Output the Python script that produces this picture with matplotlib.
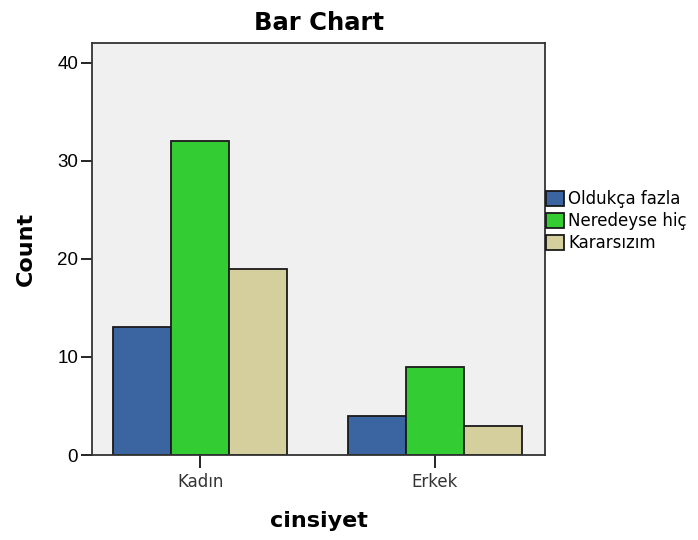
import numpy as np
import matplotlib
matplotlib.use("Agg")
import matplotlib.pyplot as plt

plt.rcParams["font.family"] = ["DejaVu Sans"]

# Data
groups = ["Kadın", "Erkek"]
series = ["Oldukça fazla", "Neredeyse hiç", "Kararsızım"]
oldukca = [13, 4]
neredeyse = [32, 9]
kararsiz = [19, 3]
colors = ["#3A65A0", "#33CC33", "#D4CF9C"]

fig = plt.figure(figsize=(6.98, 5.4), dpi=100)
ax = fig.add_axes([92 / 698, 1 - 455 / 540, (545 - 92) / 698, (455 - 43) / 540])
ax.set_facecolor("#F0F0F0")

x = np.arange(len(groups))
w = 0.247
for i, (vals, name) in enumerate(zip([oldukca, neredeyse, kararsiz], series)):
    ax.bar(x + (i - 1) * w, vals, width=w, color=colors[i], edgecolor="#1a1a1a",
           linewidth=1.3, label=name, zorder=2)

ax.set_xlim(-0.46, 1.468)
ax.set_ylim(0, 42)
ax.set_yticks([0, 10, 20, 30, 40])
ax.set_xticks(x)
ax.set_xticklabels(groups, fontsize=12, color="#333333")
ax.set_yticklabels(["0", "10", "20", "30", "40"], family="Liberation Sans", fontsize=13.5)
ax.tick_params(axis="y", length=8, width=1.2, pad=2)
ax.tick_params(axis="x", length=9, width=1.2, pad=4)
for s in ax.spines.values():
    s.set_linewidth(1.3)
    s.set_color("#333333")

# Labels
ax.set_title("Bar Chart", fontsize=17.5, fontweight="bold", pad=9)
ax.set_ylabel("Count", fontsize=16, fontweight="bold")
ax.yaxis.set_label_coords(-0.124, 0.5)
ax.set_xlabel("cinsiyet", fontsize=16, fontweight="bold")
ax.xaxis.set_label_coords(0.5, -0.137)

fig.legend(loc="upper left", bbox_to_anchor=(546 / 698, 1 - 190 / 540), frameon=False,
           fontsize=12, handlelength=1.05, handleheight=1.05, handletextpad=0.3,
           labelspacing=0.25, borderaxespad=0, borderpad=0)

plt.savefig("out.png", dpi=100)
